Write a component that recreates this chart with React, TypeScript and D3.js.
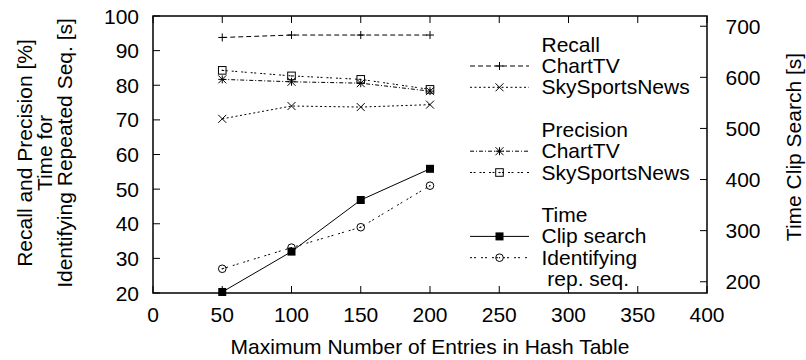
import React from "react";
import * as d3 from "d3";

const xValues = [50, 100, 150, 200];
const recallChartTV = [93.8, 94.5, 94.5, 94.5];
const recallSky = [70.3, 74.0, 73.7, 74.4];
const precisionChartTV = [81.7, 81.0, 80.6, 78.3];
const precisionSky = [84.3, 82.7, 81.7, 78.8];
const timeClipSearch = [180, 259, 360, 421]; // right axis
const timeIdentifying = [27.0, 33.1, 39.0, 51.0]; // left axis

const xTicks = [0, 50, 100, 150, 200, 250, 300, 350, 400];
const yTicks = [20, 30, 40, 50, 60, 70, 80, 90, 100];
const y2Ticks = [200, 300, 400, 500, 600, 700];

const W = 806, H = 360;
const L = 153, R = 707, T = 16, B = 293;
const FONT = "'Liberation Sans', Arial, Helvetica, sans-serif";
const FS = 21;

const x = d3.scaleLinear().domain([0, 400]).range([L, R]);
const y = d3.scaleLinear().domain([20, 100]).range([B, T]);
const y2 = d3.scaleLinear().domain([178, 720]).range([B, T]);

type Marker = "plus" | "cross" | "star" | "square" | "fsquare" | "circle";

function markerPath(m: Marker, cx: number, cy: number): React.ReactNode {
  const a = 4;
  const plus = `M${cx - a},${cy}H${cx + a}M${cx},${cy - a}V${cy + a}`;
  const cross = `M${cx - a},${cy - a}L${cx + a},${cy + a}M${cx - a},${cy + a}L${cx + a},${cy - a}`;
  switch (m) {
    case "plus":
      return <path d={plus} stroke="#000" strokeWidth={1} fill="none" />;
    case "cross":
      return <path d={cross} stroke="#000" strokeWidth={1} fill="none" />;
    case "star":
      return <path d={plus + cross} stroke="#000" strokeWidth={1} fill="none" />;
    case "square":
      return (
        <g>
          <rect x={cx - 3.8} y={cy - 3.8} width={7.6} height={7.6} stroke="#000" strokeWidth={1} fill="none" />
          <rect x={cx - 0.6} y={cy - 0.6} width={1.2} height={1.2} fill="#000" />
        </g>
      );
    case "fsquare":
      return <rect x={cx - 4} y={cy - 4} width={8} height={8} fill="#000" />;
    case "circle":
      return (
        <g>
          <circle cx={cx} cy={cy} r={3.8} stroke="#000" strokeWidth={1} fill="none" />
          <circle cx={cx} cy={cy} r={0.7} fill="#000" />
        </g>
      );
  }
}

type Series = {
  name: string;
  values: number[];
  axis: "y" | "y2";
  dash: string;
  marker: Marker;
  row: number;
};

const series: Series[] = [
  { name: "ChartTV", values: recallChartTV, axis: "y", dash: "5,3", marker: "plus", row: 1 },
  { name: "SkySportsNews", values: recallSky, axis: "y", dash: "2,2.5", marker: "cross", row: 2 },
  { name: "ChartTV", values: precisionChartTV, axis: "y", dash: "4,2,1,2", marker: "star", row: 5 },
  { name: "SkySportsNews", values: precisionSky, axis: "y", dash: "2,1.5,2,4", marker: "square", row: 6 },
  { name: "Clip search", values: timeClipSearch, axis: "y2", dash: "", marker: "fsquare", row: 9 },
  { name: "Identifying", values: timeIdentifying, axis: "y", dash: "2,2,2,5", marker: "circle", row: 10 },
];

const legendHeaders = [
  { text: "Recall", row: 0 },
  { text: "Precision", row: 4 },
  { text: "Time", row: 8 },
  { text: " rep. seq.", row: 11 },
];

const LEG_X = 541.5;
const LEG_BASE = 51.7;
const LEG_STEP = 21.3;

export default function App() {
  const lineGen = (s: Series) =>
    d3
      .line<number>()
      .x((_, i) => x(xValues[i]))
      .y((v) => (s.axis === "y" ? y(v) : y2(v)))(s.values) || "";

  return (
    <div style={{ position: "absolute", left: 0, top: 0 }}>
      <svg width={W} height={H} style={{ display: "block", background: "#fff" }} fontFamily={FONT} fontSize={FS}>
        <rect x={0} y={0} width={W} height={H} fill="#fff" />
        {/* ticks */}
        {yTicks.map((t) => (
          <g key={"yt" + t}>
            <line x1={L} x2={L + 7} y1={y(t)} y2={y(t)} stroke="#000" strokeWidth={1} />
            <text x={139} y={y(t) + 7.5} textAnchor="end">{t}</text>
          </g>
        ))}
        {y2Ticks.map((t) => (
          <g key={"y2t" + t}>
            <line x1={R - 7} x2={R} y1={y2(t)} y2={y2(t)} stroke="#000" strokeWidth={1} />
            <text x={725.5} y={y2(t) + 7.5} textAnchor="start">{t}</text>
          </g>
        ))}
        {xTicks.map((t) => (
          <g key={"xt" + t}>
            <line x1={x(t)} x2={x(t)} y1={B} y2={B - 7} stroke="#000" strokeWidth={1} />
            <line x1={x(t)} x2={x(t)} y1={T} y2={T + 7} stroke="#000" strokeWidth={1} />
            <text x={x(t)} y={321.8} textAnchor="middle">{t}</text>
          </g>
        ))}
        {/* frame */}
        <rect x={L} y={T} width={R - L} height={B - T} fill="none" stroke="#000" strokeWidth={1.5} />
        {/* axis titles */}
        <text x={(L + R) / 2} y={354} textAnchor="middle">Maximum Number of Entries in Hash Table</text>
        <g transform="translate(0,153) rotate(-90)" textAnchor="middle">
          <text x={0} y={32}>Recall and Precision [%]</text>
          <text x={0} y={52}>Time for</text>
          <text x={0} y={72}>Identifying Repeated Seq. [s]</text>
        </g>
        <text transform="translate(801,147) rotate(-90)" textAnchor="middle">Time Clip Search [s]</text>
        {/* series */}
        {series.map((s, si) => (
          <g key={"s" + si}>
            <path d={lineGen(s)} fill="none" stroke="#000" strokeWidth={1} strokeDasharray={s.dash || undefined} />
            {s.values.map((v, i) => (
              <g key={i}>{markerPath(s.marker, x(xValues[i]), s.axis === "y" ? y(v) : y2(v))}</g>
            ))}
          </g>
        ))}
        {/* legend */}
        {legendHeaders.map((h) => (
          <text key={"lh" + h.row} x={LEG_X} y={LEG_BASE + h.row * LEG_STEP} style={{ whiteSpace: "pre" }}>
            {h.text}
          </text>
        ))}
        {series.map((s, si) => {
          const by = LEG_BASE + s.row * LEG_STEP;
          const ly = by - 7;
          return (
            <g key={"lg" + si}>
              <line x1={470} x2={529} y1={ly} y2={ly} stroke="#000" strokeWidth={1} strokeDasharray={s.dash || undefined} />
              {markerPath(s.marker, 499.5, ly)}
              <text x={LEG_X} y={by}>{s.name}</text>
            </g>
          );
        })}
      </svg>
    </div>
  );
}
